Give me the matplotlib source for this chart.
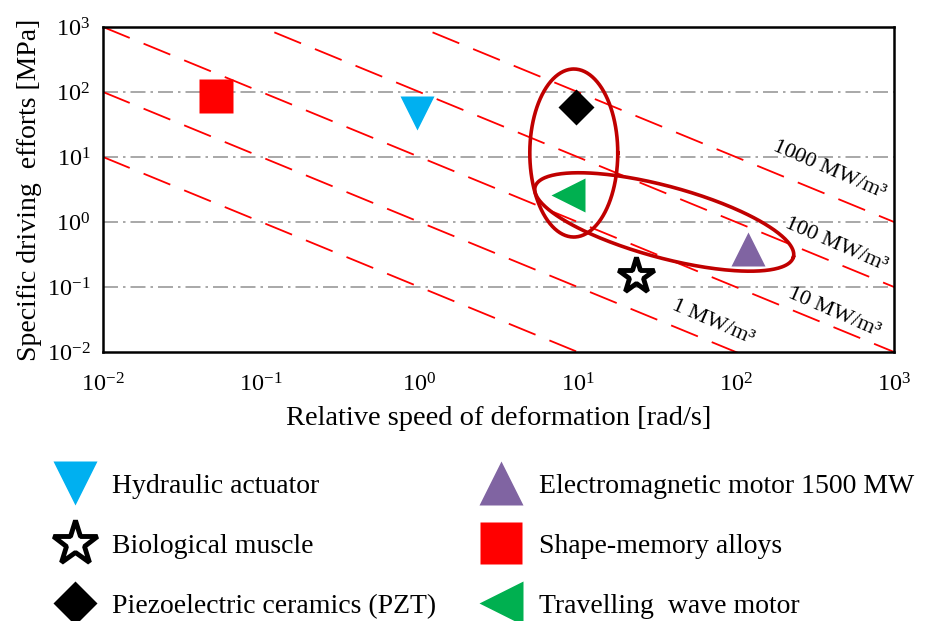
import matplotlib
matplotlib.use("Agg")
import matplotlib.pyplot as plt
import numpy as np

plt.rcParams['font.family'] = ['Liberation Serif', 'DejaVu Serif']
plt.rcParams['mathtext.fontset'] = 'custom'
plt.rcParams['mathtext.rm'] = 'Liberation Serif'
plt.rcParams['mathtext.it'] = 'Liberation Serif:italic'

# iso-power lines [MW/m3]
moce = [0.1, 1, 10, 100, 1000]
etykiety_mocy = ['1 MW/m³', '10 MW/m³', '100 MW/m³', '1000 MW/m³']
pozycje_etykiet_x = [72, 417, 430, 388]
pozycje_etykiet_y = [0.029, 0.04, 0.44, 6.3]

# actuators: speed [rad/s], effort [MPa]
nazwy = ['Hydraulic actuator', 'Biological muscle', 'Piezoelectric ceramics (PZT)',
         'Electromagnetic motor 1500 MW', 'Shape-memory alloys', 'Travelling  wave motor']
predkosc = [0.96, 23.5, 9.8, 119, 0.052, 8.7]
wysilek = [48, 0.15, 59, 0.39, 87, 2.6]
markery = ['v', '*', 'D', '^', 's', '<']
kolory = ['#00B0F0', 'white', 'black', '#8064A2', '#FF0000', '#00B050']
rozmiary = [25, 27, 18, 25, 24, 25]

tick_pot = [-2, -1, 0, 1, 2, 3]

fig = plt.figure(figsize=(9.27, 6.21), dpi=100)
ax = fig.add_axes([0.1111, 0.4332, 0.8533, 0.5234])
ax.set_xscale('log')
ax.set_yscale('log')
ax.set_xlim(1e-2, 1e3)
ax.set_ylim(1e-2, 1e3)

# grid (horizontal only)
for p in tick_pot[1:-1]:
    ax.axhline(10.0 ** p, color='#999999', lw=1.2, ls=(0, (9, 3, 1.5, 3)), zorder=1)

xx = np.array([1e-2, 1e3])
for P in moce:
    ax.plot(xx, P / xx, color='#FF0000', lw=1.3, ls=(0, (16, 8.3)), zorder=2)

for t, xe, ye in zip(etykiety_mocy, pozycje_etykiet_x, pozycje_etykiet_y):
    ax.text(xe, ye, t, fontsize=16, rotation=-23.5, ha='center', va='center',
            rotation_mode='anchor', zorder=3)

# ellipses drawn in log space (semi-axes in x-decades)
r = (0.5234 * 6.21 / 5) / (0.8533 * 9.27 / 5)


def elipsa(cx, cy, a, b, kat):
    t = np.linspace(0, 2 * np.pi, 300)
    u = a * np.cos(t)
    v = b * np.sin(t)
    th = np.radians(kat)
    du = u * np.cos(th) - v * np.sin(th)
    dw = u * np.sin(th) + v * np.cos(th)
    ex = 10 ** (np.log10(cx) + du)
    ey = 10 ** (np.log10(cy) + dw / r)
    ax.plot(ex, ey, color='#C00000', lw=2.6, zorder=4)


elipsa(9.46, 11.5, 0.278, 0.531, 0)
elipsa(35.3, 1.0, 0.846, 0.226, -15.2)

uchwyty = []
for i in range(len(nazwy)):
    if markery[i] == '*':
        h, = ax.plot(predkosc[i], wysilek[i], ls='none', marker='*', ms=rozmiary[i],
                     mfc='white', mec='black', mew=3.5, label=nazwy[i], zorder=5)
    else:
        h, = ax.plot(predkosc[i], wysilek[i], ls='none', marker=markery[i], ms=rozmiary[i],
                     mfc=kolory[i], mec='none', label=nazwy[i], zorder=5)
    uchwyty.append(h)

ax.set_xticks([10.0 ** p for p in tick_pot])
ax.set_xticklabels([r'$\mathregular{10^{%d}}$' % p for p in tick_pot])
ax.set_yticks([10.0 ** p for p in tick_pot])
ax.set_yticklabels([r'$\mathregular{10^{%d}}$' % p for p in tick_pot])
ax.minorticks_off()
ax.tick_params(axis='both', length=0, labelsize=17.5)
ax.tick_params(axis='x', pad=15)
ax.tick_params(axis='y', pad=9)
for s in ax.spines.values():
    s.set_linewidth(1.8)

ax.set_xlabel('Relative speed of deformation [rad/s]', fontsize=20.5)
ax.set_ylabel('Specific driving  efforts [MPa]', fontsize=20)
ax.xaxis.set_label_coords(0.5, -0.165)
ax.yaxis.set_label_coords(-0.077, 0.5)

fig.legend(handles=uchwyty, ncol=2, loc='upper left', bbox_to_anchor=(0.031, 0.278),
           frameon=False, fontsize=20, markerscale=1.25, handlelength=1.5,
           handletextpad=0.6, labelspacing=1.25, columnspacing=1.6)

fig.savefig('out.png', dpi=100)
